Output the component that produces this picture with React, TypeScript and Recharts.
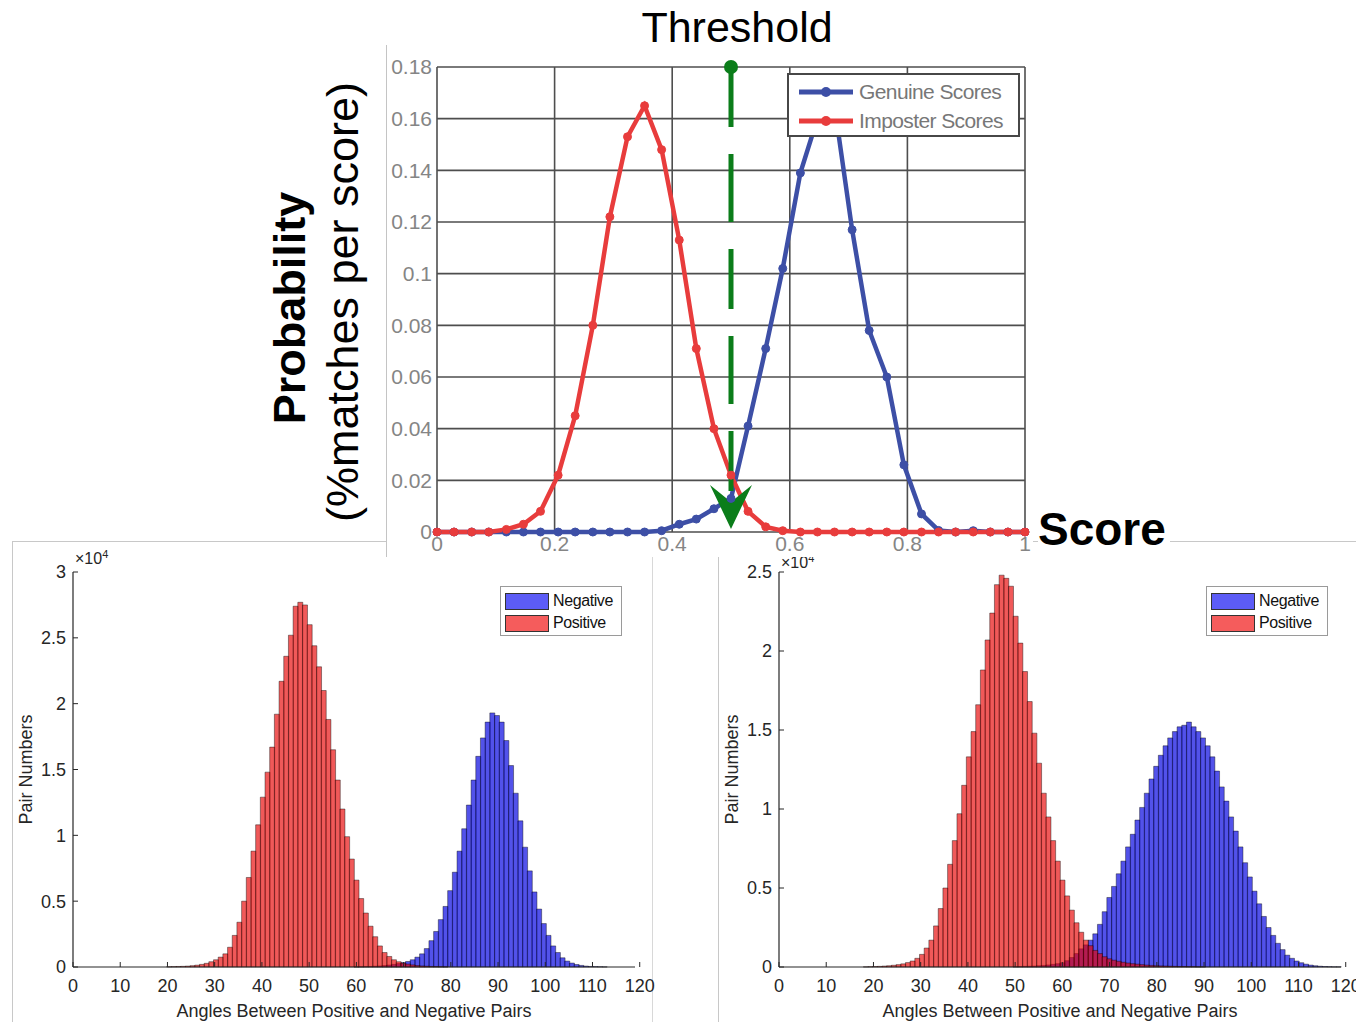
import React from "react";
import {
  LineChart,
  Line,
  XAxis,
  YAxis,
  CartesianGrid,
  Legend,
  ReferenceLine,
  ReferenceDot,
  BarChart,
  Bar,
} from "recharts";

// ---- top chart: score distributions ----
const SCORES = [
  0, 0.029, 0.059, 0.088, 0.118, 0.147, 0.176, 0.206, 0.235, 0.265, 0.294, 0.324,
  0.353, 0.382, 0.412, 0.441, 0.471, 0.5, 0.529, 0.559, 0.588, 0.618, 0.647, 0.676,
  0.706, 0.735, 0.765, 0.794, 0.824, 0.853, 0.882, 0.912, 0.941, 0.971, 1,
];
const GENUINE = [
  0, 0, 0, 0, 0, 0, 0, 0, 0, 0, 0, 0, 0, 0.0005, 0.003, 0.005, 0.009, 0.013, 0.041,
  0.071, 0.102, 0.139, 0.16, 0.165, 0.117, 0.078, 0.06, 0.026, 0.007, 0.0006, 0,
  0.0005, 0, 0, 0,
];
const IMPOSTER = [
  0, 0, 0, 0, 0.001, 0.003, 0.008, 0.022, 0.045, 0.08, 0.122, 0.153, 0.165, 0.148,
  0.113, 0.071, 0.04, 0.022, 0.008, 0.002, 0.0005, 0, 0, 0, 0, 0, 0, 0, 0, 0, 0, 0,
  0, 0, 0,
];
const SCORE_TICKS = [0, 0.2, 0.4, 0.6, 0.8, 1];
const PROB_TICKS = [0, 0.02, 0.04, 0.06, 0.08, 0.1, 0.12, 0.14, 0.16, 0.18];
const THRESHOLD = 0.5;

// ---- bottom histograms (values in units of 10^4 pairs, one bin per degree) ----
const ANGLE_BINS = Array.from({ length: 120 }, (_, i) => i);
const ANGLE_TICKS = [0, 10, 20, 30, 40, 50, 60, 70, 80, 90, 100, 110, 120];

const LEFT_POS_START = 20;
const LEFT_POS = [
  0.002, 0.003, 0.004, 0.005, 0.007, 0.01, 0.014, 0.02, 0.028, 0.04,
  0.055, 0.075, 0.1, 0.15, 0.24, 0.34, 0.5, 0.68, 0.88, 1.08,
  1.29, 1.48, 1.67, 1.92, 2.17, 2.36, 2.52, 2.74, 2.77, 2.75,
  2.6, 2.44, 2.28, 2.1, 1.88, 1.65, 1.42, 1.2, 0.99, 0.82,
  0.66, 0.52, 0.41, 0.31, 0.23, 0.16, 0.11, 0.08, 0.055, 0.04,
  0.03, 0.022, 0.016, 0.011, 0.008, 0.006, 0.004, 0.003, 0.002, 0.001,
];
const LEFT_NEG_START = 60;
const LEFT_NEG = [
  0.001, 0.002, 0.003, 0.004, 0.006, 0.008, 0.011, 0.015, 0.02, 0.026,
  0.033, 0.042, 0.055, 0.075, 0.1, 0.14, 0.2, 0.27, 0.36, 0.46,
  0.58, 0.72, 0.88, 1.05, 1.23, 1.42, 1.6, 1.74, 1.86, 1.93,
  1.91, 1.86, 1.72, 1.53, 1.32, 1.11, 0.91, 0.73, 0.57, 0.44,
  0.33, 0.24, 0.16, 0.11, 0.07, 0.045, 0.03, 0.019, 0.012, 0.007,
  0.004, 0.003, 0.002, 0.001,
];
const LEFT_Y_TICKS = [0, 0.5, 1, 1.5, 2, 2.5, 3];

const RIGHT_POS_START = 18;
const RIGHT_POS = [
  0.001, 0.002,
  0.003, 0.004, 0.006, 0.008, 0.011, 0.015, 0.02, 0.028, 0.038, 0.055,
  0.08, 0.12, 0.17, 0.26, 0.37, 0.5, 0.65, 0.8, 0.97, 1.15,
  1.33, 1.49, 1.66, 1.88, 2.07, 2.24, 2.42, 2.48, 2.46, 2.41,
  2.22, 2.05, 1.87, 1.68, 1.48, 1.29, 1.1, 0.95, 0.8, 0.67,
  0.55, 0.45, 0.36, 0.28, 0.22, 0.17, 0.135, 0.105, 0.085, 0.065,
  0.052, 0.043, 0.036, 0.03, 0.025, 0.021, 0.018, 0.015, 0.012, 0.01,
  0.008, 0.007, 0.006, 0.005, 0.004, 0.003, 0.003, 0.002, 0.002, 0.001,
  0.001,
];
const RIGHT_NEG_START = 50;
const RIGHT_NEG = [
  0.002, 0.003, 0.004, 0.005, 0.006, 0.008, 0.01, 0.013, 0.017, 0.021,
  0.027, 0.04, 0.06, 0.085, 0.115, 0.14, 0.17, 0.21, 0.27, 0.35,
  0.44, 0.51, 0.59, 0.67, 0.76, 0.84, 0.93, 1.01, 1.1, 1.19,
  1.27, 1.34, 1.4, 1.45, 1.49, 1.52, 1.53, 1.55, 1.52, 1.49,
  1.45, 1.4, 1.33, 1.24, 1.14, 1.05, 0.95, 0.86, 0.76, 0.66,
  0.57, 0.48, 0.4, 0.32, 0.25, 0.2, 0.15, 0.11, 0.075, 0.055,
  0.038, 0.027, 0.018, 0.012, 0.008, 0.005, 0.003, 0.002, 0.001, 0.001,
];
const RIGHT_Y_TICKS = [0, 0.5, 1, 1.5, 2, 2.5];

const BLUE = "#3d4fa6";
const RED = "#e83c3c";
const GREEN = "#0b7d1a";
const AXIS = "#262626";
const FONT = "'Liberation Sans', Arial, sans-serif";

const scoreData = SCORES.map((s, i) => ({ score: s, genuine: GENUINE[i], imposter: IMPOSTER[i] }));

function ArrowHead(props: any) {
  const { cx, cy } = props;
  return (
    <path
      d={`M${cx},${cy} L${cx - 21},${cy - 44} L${cx},${cy - 27} L${cx + 21},${cy - 44} Z`}
      fill={GREEN}
    />
  );
}

function ScoreLegend() {
  const rows = [
    { label: "Genuine Scores", color: BLUE },
    { label: "Imposter Scores", color: RED },
  ];
  return (
    <div style={{ border: "2px solid #474747", background: "#fff", padding: "2px 0 3px 8px", boxSizing: "border-box", width: 233, height: 64 }}>
      {rows.map((r) => (
        <div key={r.label} style={{ display: "flex", alignItems: "center", height: 29 }}>
          <svg width={58} height={12}>
            <line x1={2} y1={6} x2={56} y2={6} stroke={r.color} strokeWidth={5} />
            <circle cx={29} cy={6} r={5} fill={r.color} />
          </svg>
          <span style={{ fontFamily: FONT, fontSize: 21, color: "#777", marginLeft: 4, letterSpacing: -0.6 }}>{r.label}</span>
        </div>
      ))}
    </div>
  );
}

function ScoreChart() {
  const tick = { fill: "#858585", fontSize: 21, fontFamily: FONT };
  return (
    <div style={{ position: "absolute", left: 386, top: 45, width: 646, height: 512, background: "#fff", borderLeft: "1px solid #c4c4c4" }}>
      <LineChart width={646} height={512} data={scoreData} margin={{ top: 22, right: 8, left: 0, bottom: 0 }}>
        <CartesianGrid stroke="#4e4e4e" strokeWidth={1.6} />
        <XAxis
          dataKey="score"
          type="number"
          domain={[0, 1]}
          ticks={SCORE_TICKS}
          axisLine={false}
          tickLine={false}
          tickSize={0}
          tickMargin={4}
          height={25}
          tick={tick}
          interval={0}
        />
        <YAxis
          type="number"
          domain={[0, 0.18]}
          ticks={PROB_TICKS}
          axisLine={false}
          tickLine={false}
          tickSize={0}
          tickMargin={5}
          width={50}
          tick={tick}
          interval={0}
        />
        <Legend
          layout="vertical"
          align="center"
          verticalAlign="middle"
          wrapperStyle={{ left: 400, top: 28, width: 233 }}
          content={() => <ScoreLegend />}
        />
        <Line
          type="linear"
          dataKey="genuine"
          stroke={BLUE}
          strokeWidth={4.5}
          dot={{ r: 4, fill: BLUE, stroke: BLUE, strokeWidth: 1 }}
          isAnimationActive={false}
        />
        <Line
          type="linear"
          dataKey="imposter"
          stroke={RED}
          strokeWidth={4.5}
          dot={{ r: 4, fill: RED, stroke: RED, strokeWidth: 1 }}
          isAnimationActive={false}
        />
        <ReferenceLine
          segment={[
            { x: THRESHOLD, y: 0.18 },
            { x: THRESHOLD, y: 0.004 },
          ]}
          stroke={GREEN}
          strokeWidth={5}
          strokeDasharray="60 27 68 27"
        />
        <ReferenceDot x={THRESHOLD} y={0.18} r={7} fill={GREEN} stroke="none" />
        <ReferenceDot x={THRESHOLD} y={0.0012} shape={ArrowHead} />
      </LineChart>
    </div>
  );
}

function HistLegend() {
  const rows = [
    { label: "Negative", color: "#5c5cf6" },
    { label: "Positive", color: "#f55c5c" },
  ];
  return (
    <div style={{ border: "1px solid #9a9a9a", background: "#fff", padding: "3px 4px", boxSizing: "border-box", width: 122, height: 50 }}>
      {rows.map((r) => (
        <div key={r.label} style={{ display: "flex", alignItems: "center", height: 22 }}>
          <div style={{ width: 44, height: 17, background: r.color, border: "1px solid #333", boxSizing: "border-box" }} />
          <span style={{ fontFamily: FONT, fontSize: 16, color: "#111", marginLeft: 4, letterSpacing: -0.4 }}>{r.label}</span>
        </div>
      ))}
    </div>
  );
}

interface HistProps {
  left: number;
  width: number;
  negStart: number;
  neg: number[];
  posStart: number;
  pos: number[];
  yTicks: number[];
  rightMargin: number;
  borderRight?: boolean;
  expTop: number;
}

function AngleHistogram({ left, width, negStart, neg, posStart, pos, yTicks, rightMargin, borderRight, expTop }: HistProps) {
  const data = ANGLE_BINS.map((b) => ({
    bin: b,
    negative: neg[b - negStart] ?? 0,
    positive: pos[b - posStart] ?? 0,
  }));
  const tick = { fill: AXIS, fontSize: 18, fontFamily: FONT };
  const yMax = yTicks[yTicks.length - 1];
  // the svg is a little wider than the panel so the last tick label is not clipped
  const spill = 24;
  return (
    <div
      style={{
        position: "absolute",
        left,
        top: 541,
        width,
        height: 481,
        borderTop: "1px solid #c8c8c8",
        borderLeft: "1px solid #c8c8c8",
        borderRight: borderRight ? "1px solid #d8d8d8" : undefined,
        boxSizing: "border-box",
        background: "#fff",
      }}
    >
      <BarChart
        width={width - 1 + spill}
        height={480}
        data={data}
        barCategoryGap={0}
        barGap={0}
        margin={{ top: 30, right: rightMargin + spill, left: 0, bottom: 5 }}
      >
        <XAxis
          xAxisId="ticks"
          type="number"
          domain={[0, 120]}
          ticks={ANGLE_TICKS}
          interval={0}
          height={50}
          axisLine={{ stroke: AXIS, strokeWidth: 1.2 }}
          tickLine={{ stroke: AXIS }}
          tickSize={-5}
          tickMargin={17}
          tick={tick}
          label={{ value: "Angles Between Positive and Negative Pairs", position: "insideBottom", offset: 0, fill: AXIS, fontSize: 18, fontFamily: FONT }}
        />
        <XAxis xAxisId="neg" dataKey="bin" hide height={0} />
        <XAxis xAxisId="pos" dataKey="bin" hide height={0} />
        <YAxis
          type="number"
          domain={[0, yMax]}
          ticks={yTicks}
          interval={0}
          width={60}
          axisLine={{ stroke: AXIS, strokeWidth: 1.2 }}
          tickLine={{ stroke: AXIS }}
          tickSize={-5}
          tickMargin={12}
          tick={tick}
          label={{ value: "Pair Numbers", angle: -90, position: "insideLeft", offset: 13, fill: AXIS, fontSize: 18, fontFamily: FONT, style: { textAnchor: "middle" } }}
        />
        <Legend
          layout="vertical"
          align="center"
          verticalAlign="middle"
          wrapperStyle={{ left: 487, top: 44, width: 122 }}
          content={() => <HistLegend />}
        />
        <Bar
          xAxisId="neg"
          dataKey="negative"
          fill="#0000e0"
          fillOpacity={0.68}
          stroke="#000"
          strokeWidth={0.5}
          strokeOpacity={0.8}
          isAnimationActive={false}
        />
        <Bar
          xAxisId="pos"
          dataKey="positive"
          fill="#e80000"
          fillOpacity={0.65}
          stroke="#000"
          strokeWidth={0.5}
          strokeOpacity={0.8}
          isAnimationActive={false}
        />
      </BarChart>
      <div style={{ position: "absolute", left: 62, top: expTop, fontFamily: FONT, fontSize: 16, color: AXIS }}>
        ×10<sup style={{ fontSize: 11 }}>4</sup>
      </div>
    </div>
  );
}

export default function App() {
  return (
    <div style={{ position: "absolute", left: 0, top: 0, width: 1356, height: 1022, overflow: "hidden", background: "#fff", fontFamily: FONT }}>
      <AngleHistogram
        left={12}
        width={641}
        negStart={LEFT_NEG_START}
        neg={LEFT_NEG}
        posStart={LEFT_POS_START}
        pos={LEFT_POS}
        yTicks={LEFT_Y_TICKS}
        rightMargin={18}
        borderRight
        expTop={6}
      />
      <AngleHistogram
        left={718}
        width={638}
        negStart={RIGHT_NEG_START}
        neg={RIGHT_NEG}
        posStart={RIGHT_POS_START}
        pos={RIGHT_POS}
        yTicks={RIGHT_Y_TICKS}
        rightMargin={15}
        expTop={10}
      />
      <ScoreChart />
      <div style={{ position: "absolute", left: 737, top: 6, transform: "translateX(-50%)", fontSize: 43, lineHeight: 1, color: "#000", whiteSpace: "nowrap" }}>
        Threshold
      </div>
      <div style={{ position: "absolute", left: 1038, top: 506, fontSize: 46, lineHeight: 1, fontWeight: "bold", color: "#000", background: "#fff", paddingRight: 4 }}>
        Score
      </div>
      <div style={{ position: "absolute", left: 289, top: 308, transform: "translate(-50%, -50%) rotate(-90deg)", fontSize: 45, lineHeight: 1, fontWeight: "bold", whiteSpace: "nowrap" }}>
        Probability
      </div>
      <div style={{ position: "absolute", left: 342, top: 302, transform: "translate(-50%, -50%) rotate(-90deg)", fontSize: 45, lineHeight: 1, whiteSpace: "nowrap" }}>
        (%matches per score)
      </div>
    </div>
  );
}
